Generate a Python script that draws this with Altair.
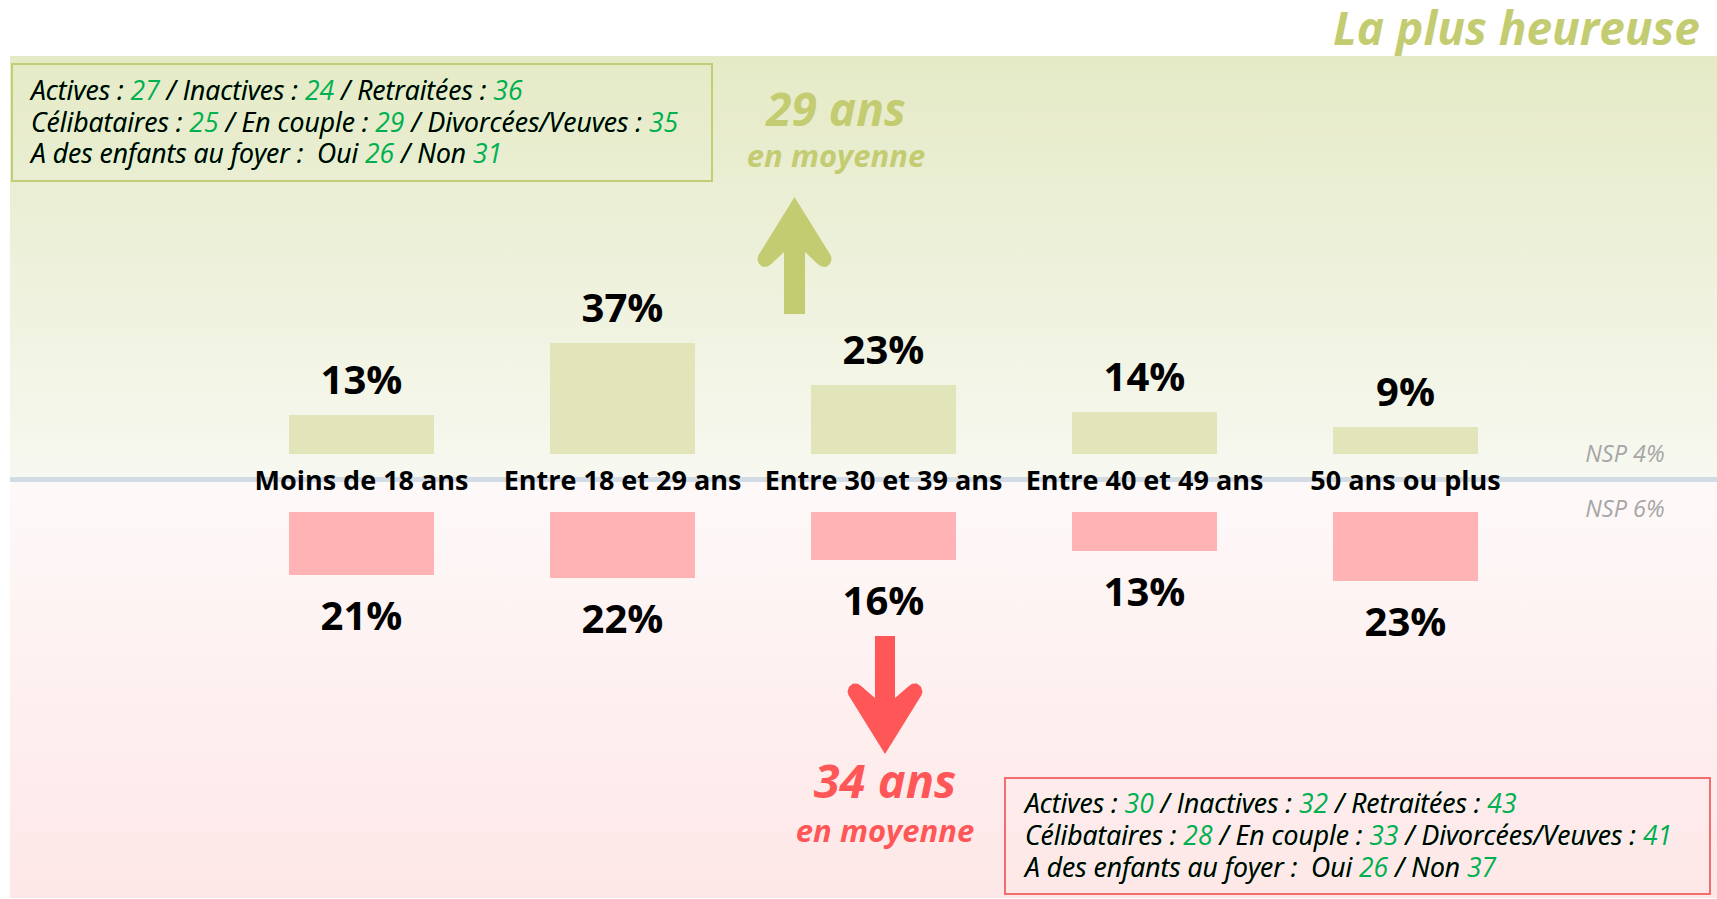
import altair as alt
import pandas as pd

# ---------------- data ----------------
categories = ["Moins de 18 ans", "Entre 18 et 29 ans", "Entre 30 et 39 ans",
              "Entre 40 et 49 ans", "50 ans ou plus"]
heureuses = [13, 37, 23, 14, 9]
malheureuses = [21, 22, 16, 13, 23]
nsp = [4, 6]
age_moyen = [29, 34]

statut_labels = ["Actives", "Inactives", "Retraitées"]
famille_labels = ["Célibataires", "En couple", "Divorcées/Veuves"]
enfants_labels = ["Oui", "Non"]

statut_haut = [27, 24, 36]
famille_haut = [25, 29, 35]
enfants_haut = [26, 31]

statut_bas = [30, 32, 43]
famille_bas = [28, 33, 41]
enfants_bas = [26, 37]

# ---------------- layout / style ----------------
W, H = 1717, 899
PX_PER_PCT = 3.0
ZERO_PX = 483
GAP = 29 / PX_PER_PCT
STEP = 261
FIRST = 361.5
HALF = 72.5 / STEP
X_DOMAIN = [-FIRST / STEP, (W - FIRST) / STEP]
Y_DOMAIN = [-(H - ZERO_PX) / PX_PER_PCT, ZERO_PX / PX_PER_PCT]

OLIVE = "#c4cc72"
RED = "#ff5757"
GREEN_TXT = "#00b050"
BLACK = "#000000"
FONT = "Open Sans"
FIG_SPACE = "\u2007"

xs = alt.Scale(domain=X_DOMAIN, nice=False, zero=False)
ys = alt.Scale(domain=Y_DOMAIN, nice=False, zero=False)

dummy = pd.DataFrame({"k": [0]})


def band(x0, x1, y0, y1, fill):
    return alt.Chart(dummy).mark_rect(fill=fill).encode(
        x=alt.value(x0), x2=alt.value(x1), y=alt.value(y0), y2=alt.value(y1))


def grad(c0, c1):
    return alt.Gradient(gradient="linear",
                        stops=[alt.GradientStop(offset=0, color=c0),
                               alt.GradientStop(offset=1, color=c1)],
                        x1=0, x2=0, y1=0, y2=1)


def box(x0, x1, y0, y1, stroke):
    return alt.Chart(dummy).mark_rect(fillOpacity=0, stroke=stroke, strokeWidth=2).encode(
        x=alt.value(x0), x2=alt.value(x1), y=alt.value(y0), y2=alt.value(y1))


def txt(text, x, y, size, color, weight="normal", style="normal", align="center"):
    return alt.Chart(dummy).mark_text(
        text=text, font=FONT, fontSize=size, fontWeight=weight, fontStyle=style,
        color=color, align=align, baseline="alphabetic").encode(
        x=alt.value(x), y=alt.value(y))


def seg_line(labels, values):
    segs = []
    for j, (l, v) in enumerate(zip(labels, values)):
        segs.append(((" / " if j else "") + l + " : ", BLACK))
        segs.append((str(v), GREEN_TXT))
    return segs


def enfants_line(values):
    return [("A des enfants au foyer : \u00a0" + enfants_labels[0] + " ", BLACK),
            (str(values[0]), GREEN_TXT),
            (" / " + enfants_labels[1] + " ", BLACK),
            (str(values[1]), GREEN_TXT)]


def rich(segs, x, y, size=26.5):
    # green layer: whole line; black layer on top: numbers replaced by
    # figure spaces (same advance as digits) so the green numbers show through
    full = "".join(s for s, _ in segs)
    blk = "".join(s if c == BLACK else FIG_SPACE * len(s) for s, c in segs)
    g = txt(full, x, y, size, GREEN_TXT, "normal", "italic", "left")
    b = txt(blk, x, y, size, BLACK, "normal", "italic", "left")
    return [g, b]


# ---------------- backgrounds ----------------
bg_green = band(10, W, 56, 477, grad("#e5eac6", "#f7f8f0"))
bg_pink = band(10, W, 482, 898, grad("#fef9f9", "#fee7e7"))
divider = band(10, W, 477, 482, "#d3dbe5")

box_top = box(12, 712, 64, 181, "#c5cd74")
box_bot = box(1005, 1710, 778, 894, "#f46d6d")

# ---------------- bars ----------------
df = pd.DataFrame({"cat": categories, "i": list(range(len(categories))),
                   "h": heureuses, "m": malheureuses})
base = alt.Chart(df).transform_calculate(
    x0=f"datum.i - {HALF}", x1=f"datum.i + {HALF}",
    gy0=f"{GAP}", gy1=f"{GAP} + datum.h",
    ry0=f"-{GAP}", ry1=f"-{GAP} - datum.m",
    hl="datum.h + '%'", ml="datum.m + '%'")

bars_h = base.mark_rect(color="#e1e5b9").encode(
    x=alt.X("x0:Q", scale=xs, axis=None), x2="x1:Q",
    y=alt.Y("gy0:Q", scale=ys, axis=None), y2="gy1:Q")
bars_m = base.mark_rect(color="#ffb3b5").encode(
    x=alt.X("x0:Q", scale=xs, axis=None), x2="x1:Q",
    y=alt.Y("ry0:Q", scale=ys, axis=None), y2="ry1:Q")

lbl_h = base.mark_text(font=FONT, fontWeight="bold", fontSize=40, color=BLACK,
                       baseline="alphabetic", dy=-21).encode(
    x=alt.X("i:Q", scale=xs, axis=None), y=alt.Y("gy1:Q", scale=ys, axis=None),
    text="hl:N")
lbl_m = base.mark_text(font=FONT, fontWeight="bold", fontSize=40, color=BLACK,
                       baseline="alphabetic", dy=55).encode(
    x=alt.X("i:Q", scale=xs, axis=None), y=alt.Y("ry1:Q", scale=ys, axis=None),
    text="ml:N")
lbl_cat = base.mark_text(font=FONT, fontWeight="bold", fontSize=27, color=BLACK,
                         baseline="alphabetic").encode(
    x=alt.X("i:Q", scale=xs, axis=None), y=alt.value(490), text="cat:N")

# ---------------- arrows ----------------
UP = ("M0,-1 L0.62,0 L0.635,0.06 L0.61,0.14 L0.54,0.195 L0.46,0.19 L0.40,0.15 "
      "L0.18,-0.06 L0.18,1 L-0.18,1 L-0.18,-0.06 L-0.40,0.15 L-0.46,0.19 "
      "L-0.54,0.195 L-0.61,0.14 L-0.635,0.06 L-0.62,0 Z")
DOWN = ("M0,1 L-0.62,0 L-0.635,-0.06 L-0.61,-0.14 L-0.54,-0.195 L-0.46,-0.19 "
        "L-0.40,-0.15 L-0.17,0.05 L-0.17,-1 L0.17,-1 L0.17,0.05 L0.40,-0.15 "
        "L0.46,-0.19 L0.54,-0.195 L0.61,-0.14 L0.635,-0.06 L0.62,0 Z")

arrow_up = alt.Chart(dummy).mark_point(shape=UP, size=117 ** 2, filled=True,
                                       color=OLIVE, opacity=1, strokeWidth=0).encode(
    x=alt.value(794.5), y=alt.value(255.5))
arrow_down = alt.Chart(dummy).mark_point(shape=DOWN, size=118 ** 2, filled=True,
                                         color=RED, opacity=1, strokeWidth=0).encode(
    x=alt.value(885), y=alt.value(695))

# ---------------- texts ----------------
title = txt("La plus heureuse", 1700, 45, 46, OLIVE, "bold", "italic", "right")
age_h = txt(f"{age_moyen[0]} ans", 836, 126, 46, OLIVE, "bold", "italic")
moy_h = txt("en moyenne", 836, 167, 31, OLIVE, "bold", "italic")
age_m = txt(f"{age_moyen[1]} ans", 885, 798, 47, RED, "bold", "italic")
moy_m = txt("en moyenne", 885, 842, 31, RED, "bold", "italic")
nsp_h = txt(f"NSP {nsp[0]}%", 1625, 462, 23.5, "#a6a6a6", "normal", "italic")
nsp_m = txt(f"NSP {nsp[1]}%", 1625, 517, 23.5, "#a6a6a6", "normal", "italic")

text_lines = []
text_lines += rich(seg_line(statut_labels, statut_haut), 31, 100)
text_lines += rich(seg_line(famille_labels, famille_haut), 31, 132)
text_lines += rich(enfants_line(enfants_haut), 31, 163)
text_lines += rich(seg_line(statut_labels, statut_bas), 1025, 813)
text_lines += rich(seg_line(famille_labels, famille_bas), 1025, 845)
text_lines += rich(enfants_line(enfants_bas), 1025, 877)

chart = alt.layer(
    bg_green, bg_pink, divider, box_top, box_bot,
    bars_h, bars_m, lbl_h, lbl_m, lbl_cat,
    arrow_up, arrow_down,
    title, age_h, moy_h, age_m, moy_m, nsp_h, nsp_m,
    *text_lines,
).properties(
    width=W, height=H, padding=0,
    autosize=alt.AutoSizeParams(type="none"),
    background="white",
).configure_view(strokeWidth=0)

chart.save("out.html", embed_options={"renderer": "svg", "actions": False})
